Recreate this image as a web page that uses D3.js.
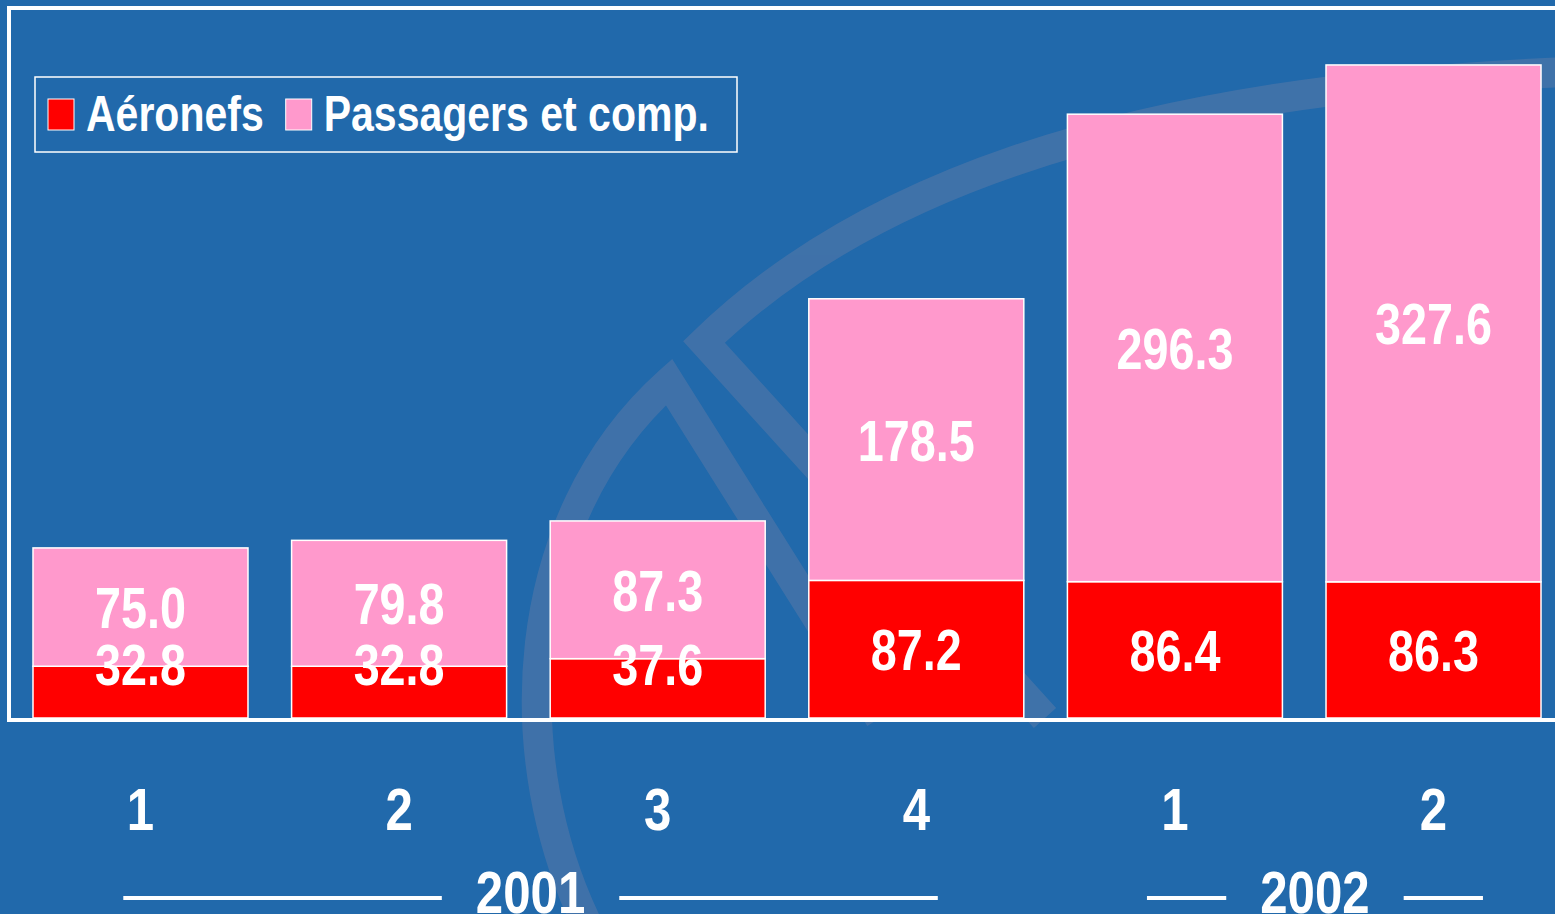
<!DOCTYPE html>
<html lang="fr">
<head>
<meta charset="UTF-8">
<title>Aéronefs / Passagers et comp.</title>
<script src="https://d3js.org/d3.v7.min.js"></script>
<style>
  html, body { margin: 0; padding: 0; background: #2169ab; overflow: hidden; }
  text { font-family: "Liberation Sans", Arial, sans-serif; font-weight: bold; fill: #fff; }
</style>
</head>
<body>
<div id="chart"></div>
<script>
// data
var quarters = ["1", "2", "3", "4", "1", "2"];
var aeronefs = [32.8, 32.8, 37.6, 87.2, 86.4, 86.3];
var passagers = [75.0, 79.8, 87.3, 178.5, 296.3, 327.6];
var years = ["2001", "2002"];
var yearStart = [0, 4];   // first quarter index of each year
var yearEnd = [3, 5];     // last quarter index of each year
var seriesNames = ["Aéronefs", "Passagers et comp."];
var seriesColors = ["#ff0000", "#ff99cc"];

var W = 1555, H = 914;
var NARROW = 0.82;   // Arial Narrow look, from Liberation Sans squeezed

var svg = d3.select("#chart").append("svg")
    .attr("width", W).attr("height", H);

svg.append("rect").attr("width", W).attr("height", H).attr("fill", "#2169ab");

// narrow text helper
function ntext(g, tx, ty, str, size, anchor) {
  return g.append("text")
      .attr("transform", "translate(" + tx + "," + ty + ") scale(" + NARROW + ",1)")
      .attr("text-anchor", anchor || "middle")
      .attr("font-size", size)
      .text(str);
}

// faint logo in the background
var logo = svg.append("g")
    .attr("fill", "none")
    .attr("stroke", "#4774a9")
    .attr("stroke-width", 30)
    .attr("opacity", 0.8);
logo.append("path").attr("d", "M 590 930 C 505 760, 515 520, 669 382 L 880 718");
logo.append("path").attr("d", "M 1570 72 C 1100 90, 850 200, 704 342 L 1045 718");

// frame
svg.append("rect")
    .attr("x", 9).attr("y", 8)
    .attr("width", 1600).attr("height", 712)
    .attr("fill", "none")
    .attr("stroke", "#fff")
    .attr("stroke-width", 4);

var x = d3.scaleBand()
    .domain(d3.range(quarters.length))
    .range([12.3, 1561.7])
    .paddingInner(0.1686)
    .paddingOuter(0.08);

var y = d3.scaleLinear()
    .domain([0, 450])
    .range([718, 8]);

var bars = svg.append("g");

// red part
bars.selectAll(".aer")
  .data(aeronefs)
  .enter().append("rect")
    .attr("x", function(d, i) { return x(i); })
    .attr("width", x.bandwidth())
    .attr("y", function(d) { return y(d); })
    .attr("height", function(d) { return y(0) - y(d); })
    .attr("fill", seriesColors[0])
    .attr("stroke", "#fff")
    .attr("stroke-width", 1.5);

// pink part on top
bars.selectAll(".pas")
  .data(passagers)
  .enter().append("rect")
    .attr("x", function(d, i) { return x(i); })
    .attr("width", x.bandwidth())
    .attr("y", function(d, i) { return y(aeronefs[i] + d); })
    .attr("height", function(d, i) { return y(aeronefs[i]) - y(aeronefs[i] + d); })
    .attr("fill", seriesColors[1])
    .attr("stroke", "#fff")
    .attr("stroke-width", 1.5);

// value labels
passagers.forEach(function(d, i) {
  var cy = (y(aeronefs[i]) + y(aeronefs[i] + d)) / 2;
  ntext(bars, x(i) + x.bandwidth() / 2, cy + 21, d.toFixed(1), 57);
});
aeronefs.forEach(function(d, i) {
  var cy = Math.min((y(0) + y(d)) / 2, y(0) - 54);
  ntext(bars, x(i) + x.bandwidth() / 2, cy + 21, d.toFixed(1), 57);
});

// quarter labels
var qg = svg.append("g");
quarters.forEach(function(q, i) {
  ntext(qg, x(i) + x.bandwidth() / 2, 830, q, 60);
});

// year labels with rules
var ruleFrac = [[0.42, 0.6], [0.37, 0.73]];
years.forEach(function(yr, k) {
  var x0 = x(yearStart[k]) + x.bandwidth() * ruleFrac[k][0];
  var x1 = x(yearEnd[k]) + x.bandwidth() * ruleFrac[k][1];
  var cx = (x0 + x1) / 2;
  var g = svg.append("g");
  var t = ntext(g, cx, 913, yr, 60);
  var half = t.node().getComputedTextLength() * NARROW / 2 + 34;
  g.append("line").attr("x1", x0).attr("x2", cx - half)
      .attr("y1", 898).attr("y2", 898)
      .attr("stroke", "#fff").attr("stroke-width", 4);
  g.append("line").attr("x1", cx + half).attr("x2", x1)
      .attr("y1", 898).attr("y2", 898)
      .attr("stroke", "#fff").attr("stroke-width", 4);
});

// legend
var legend = svg.append("g");
legend.append("rect")
    .attr("x", 35).attr("y", 77)
    .attr("width", 702).attr("height", 75)
    .attr("fill", "none")
    .attr("stroke", "#fff")
    .attr("stroke-width", 1.5);
var lx = 48;
seriesNames.forEach(function(name, k) {
  legend.append("rect")
      .attr("x", lx).attr("y", 99)
      .attr("width", 26).attr("height", 31)
      .attr("fill", seriesColors[k])
      .attr("stroke", "#fff").attr("stroke-width", 1);
  var t = ntext(legend, lx + 38, 131, name, 50, "start");
  lx = lx + 38 + t.node().getComputedTextLength() * NARROW + 22;
});
</script>
</body>
</html>
